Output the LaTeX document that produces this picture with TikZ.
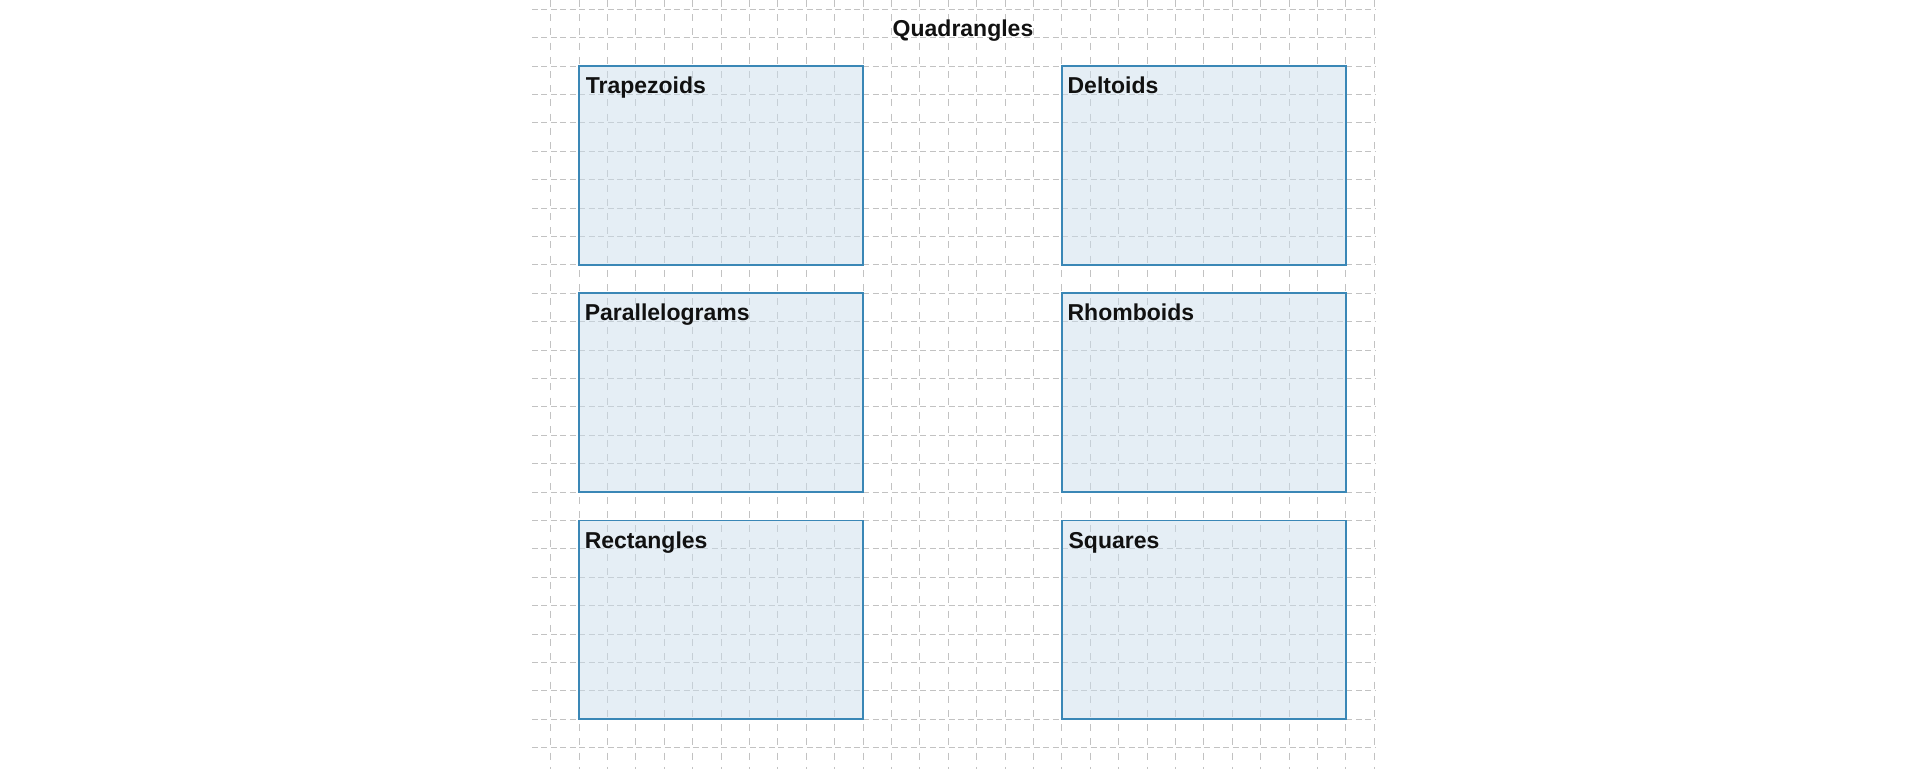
\documentclass[tikz,border=0pt]{standalone}
\usepackage{fontspec}
\setmainfont{Liberation Sans}
\usetikzlibrary{calc}
\definecolor{gridgray}{HTML}{C2C2C2}
\definecolor{boxfill}{HTML}{CBDDEB}
\definecolor{boxline}{HTML}{3A87B6}
\definecolor{txt}{HTML}{111111}
\begin{document}
\begin{tikzpicture}[x=1pt,y=-1pt,
  hgrid/.style={gridgray, line width=1pt, dash pattern=on 6pt off 3.47pt},
  vgrid/.style={gridgray, line width=1pt, dash pattern=on 7pt off 7.2pt},
  qbox/.style={draw=boxline, line width=1.8pt, fill=boxfill, fill opacity=0.5, draw opacity=1,
    minimum width=283.8pt, minimum height=198.8pt, anchor=north west, inner sep=0pt, outer sep=0pt},
  lbl/.style={font=\fontsize{23}{27}\selectfont\bfseries, text=txt, anchor=base west, inner sep=0pt},
  ttl/.style={font=\fontsize{23}{27}\selectfont\bfseries, text=txt, anchor=base, inner sep=0pt}
]
\useasboundingbox (0,0) rectangle (1920,769);
% grid
\foreach \i in {0,...,29} {
  \draw[vgrid] (550.7+\i*28.4,0) -- (550.7+\i*28.4,769);
}
\foreach \j in {0,...,26} {
  \draw[hgrid] (532,9.3+\j*28.4) -- (1375,9.3+\j*28.4);
}
% boxes
\node[qbox] (trap)  at (579.1,66.1) {};
\node[qbox] (delt)  at (1061.9,66.1) {};
\node[qbox] (para)  at (579.1,293.3) {};
\node[qbox] (rhomb) at (1061.9,293.3) {};
\node[qbox] (rect)  at (579.1,520.5) {};
\node[qbox] (squa)  at (1061.9,520.5) {};
% labels
\node[lbl] (ltrap)  at ($(trap.north west)+(6.5,27.5)$) {Trapezoids};
\node[lbl] (ldelt)  at ($(delt.north west)+(5.5,27.5)$) {Deltoids};
\node[lbl] (lpara)  at ($(para.north west)+(5.5,27.5)$) {Parallelograms};
\node[lbl] (lrhomb) at ($(rhomb.north west)+(5.5,27.5)$) {Rhomboids};
\node[lbl] (lrect)  at ($(rect.north west)+(5.5,27.5)$) {Rectangles};
\node[lbl] (lsqua)  at ($(squa.north west)+(6.5,27.5)$) {Squares};
% title
\node[ttl] (title) at (963,36.7) {Quadrangles};
\end{tikzpicture}
\end{document}
